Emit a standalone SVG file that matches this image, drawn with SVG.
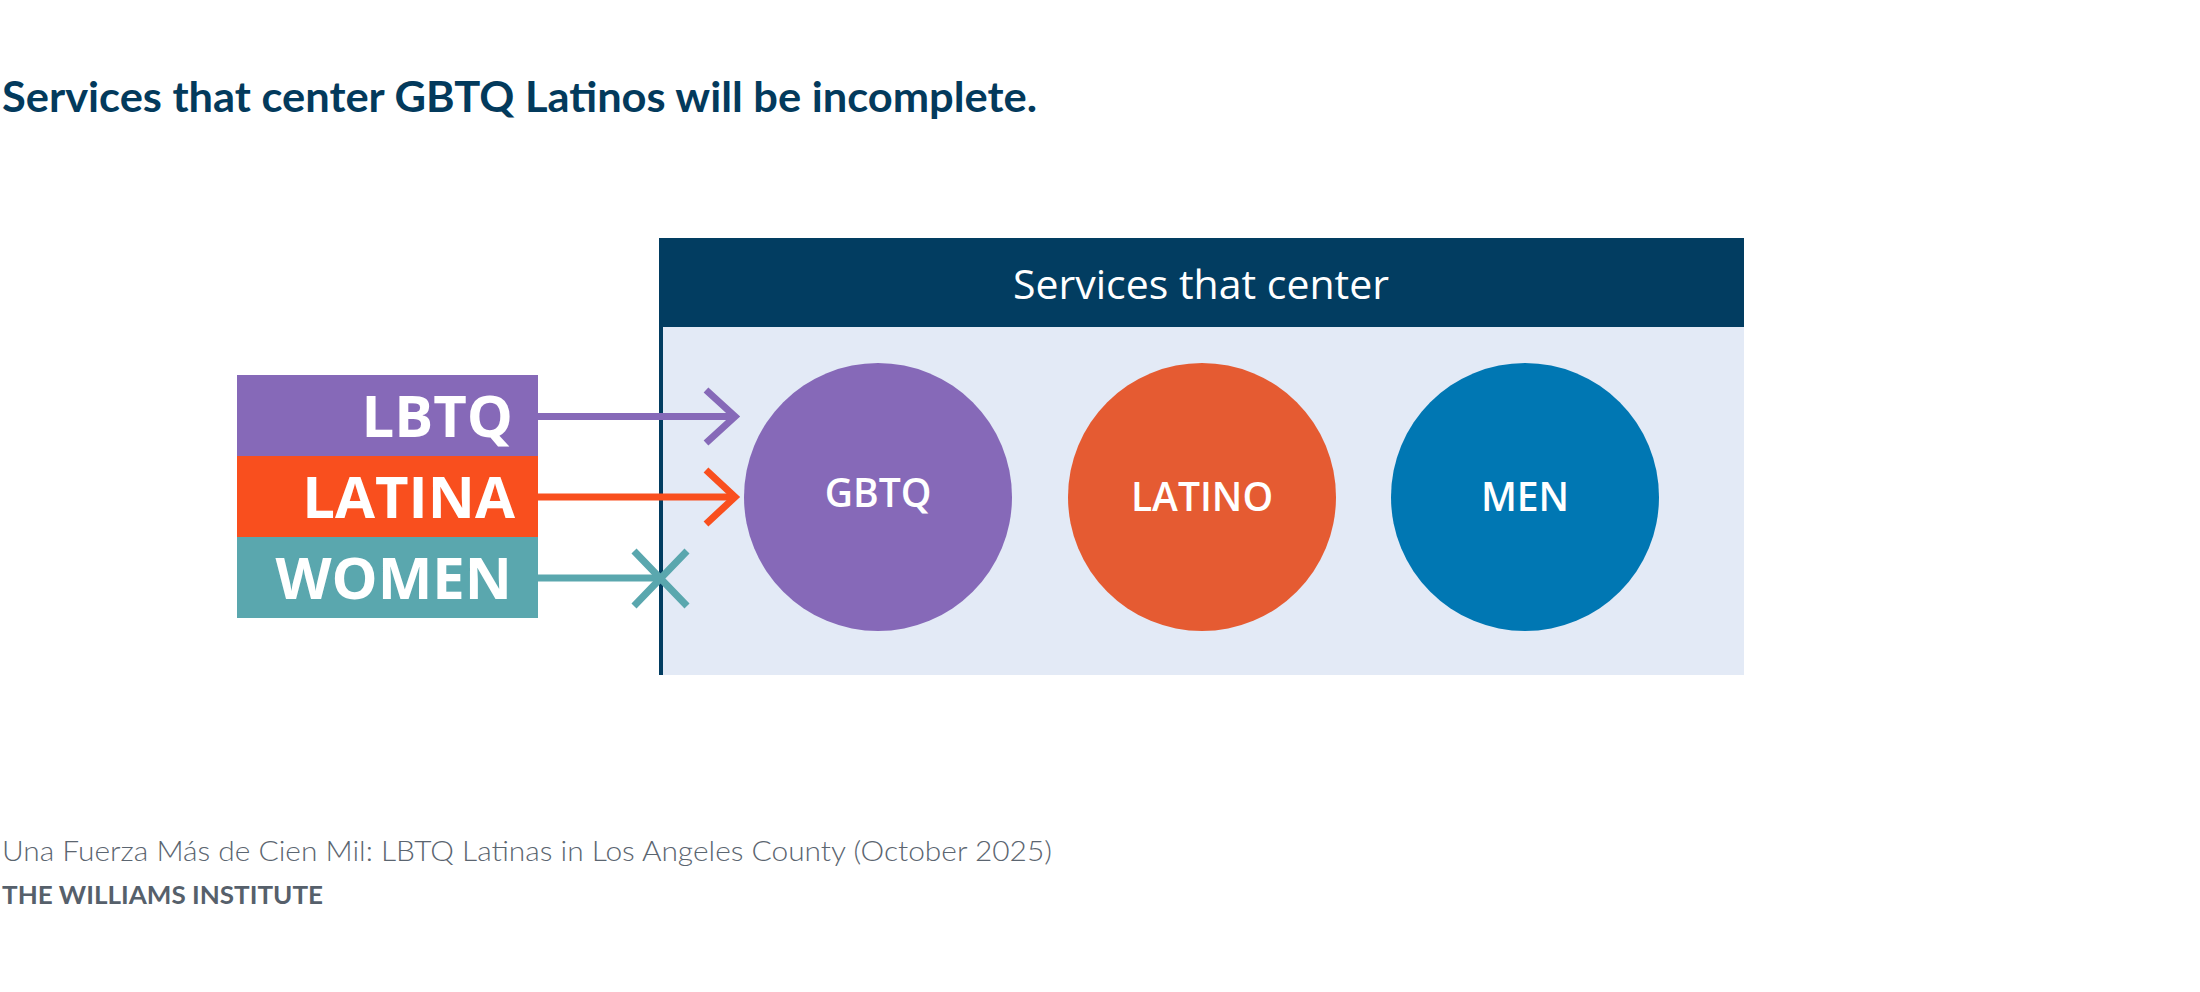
<svg xmlns="http://www.w3.org/2000/svg" width="2200" height="992" viewBox="0 0 2200 992">
<style>
.title{font-family:Lato,"Open Sans",sans-serif;font-weight:700;font-size:42px;fill:#033A5C}
.lab{font-family:"Open Sans","Liberation Sans",sans-serif;font-weight:700;font-size:58px;fill:#FFFFFF;text-anchor:end}
.ctext{font-family:"Open Sans","Liberation Sans",sans-serif;font-weight:600;font-size:39px;fill:#FFFFFF;text-anchor:middle}
.head{font-family:"Open Sans","Liberation Sans",sans-serif;font-weight:400;font-size:41px;fill:#FFFFFF;text-anchor:middle}
.src{font-family:Lato,"Liberation Sans",sans-serif;font-weight:300;font-size:27px;fill:#5B6570}
.inst{font-family:Lato,"Liberation Sans",sans-serif;font-weight:700;font-size:24px;fill:#56606B}
.conn{fill:none;stroke-width:7}
</style>
<rect width="2200" height="992" fill="#FFFFFF"/>
<text class="title" x="2" y="112" textLength="1035" lengthAdjust="spacingAndGlyphs">Services that center GBTQ Latinos will be incomplete.</text>

<g id="services-box">
  <rect x="659" y="238" width="1085" height="89" fill="#023D61"/>
  <rect x="659" y="327" width="1085" height="348" fill="#E3EAF6"/>
  <rect x="659" y="238" width="4" height="437" fill="#023D61"/>
  <text class="head" x="1201" y="299">Services that center</text>
</g>

<g id="node-gbtq">
  <circle cx="878" cy="497" r="134" fill="#8669B8"/>
  <text class="ctext" x="878" y="507">GBTQ</text>
</g>
<g id="node-latino">
  <circle cx="1202" cy="497" r="134" fill="#E55B32"/>
  <text class="ctext" x="1202" y="511">LATINO</text>
</g>
<g id="node-men">
  <circle cx="1525" cy="497" r="134" fill="#0077B3"/>
  <text class="ctext" x="1525" y="511">MEN</text>
</g>

<g id="label-lbtq">
  <rect x="237" y="375" width="301" height="81" fill="#8669B8"/>
  <text class="lab" x="513" y="437">LBTQ</text>
</g>
<g id="label-latina">
  <rect x="237" y="456" width="301" height="81" fill="#F94F1E"/>
  <text class="lab" x="515" y="518">LATINA</text>
</g>
<g id="label-women">
  <rect x="237" y="537" width="301" height="81" fill="#5AA7AE"/>
  <text class="lab" x="512" y="599">WOMEN</text>
</g>

<g id="connectors">
  <path class="conn" stroke="#8669B8" d="M538 416.5H733"/>
  <path class="conn" stroke="#8669B8" d="M706 390L735 416.5L706 443"/>
  <path class="conn" stroke="#F94F1E" d="M538 497H733"/>
  <path class="conn" stroke="#F94F1E" d="M706 470L735 497L706 524"/>
  <path class="conn" stroke="#5AA7AE" d="M538 578H660"/>
  <path class="conn" stroke="#5AA7AE" d="M634 551L687 606M687 551L634 606"/>
</g>

<text class="src" x="2" y="861" textLength="1050" lengthAdjust="spacingAndGlyphs">Una Fuerza Más de Cien Mil: LBTQ Latinas in Los Angeles County (October 2025)</text>
<text class="inst" x="2" y="904" textLength="321" lengthAdjust="spacingAndGlyphs">THE WILLIAMS INSTITUTE</text>
</svg>
